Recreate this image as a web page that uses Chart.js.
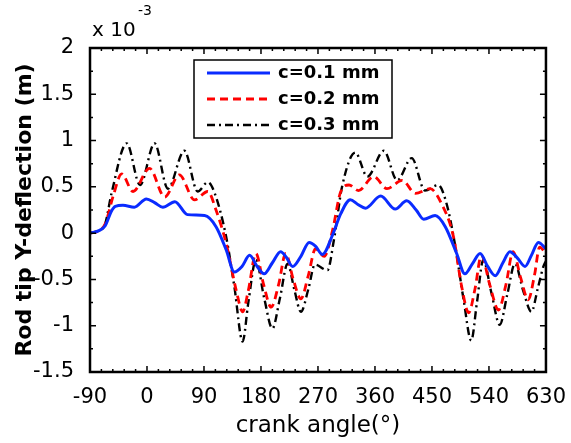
<!DOCTYPE html>
<html>
<head>
<meta charset="UTF-8">
<title>Rod tip Y-deflection</title>
<script src="https://cdn.jsdelivr.net/npm/chart.js"></script>
<style>
  html, body { margin: 0; padding: 0; background: #fff; }
</style>
</head>
<body>
<canvas id="grafico" width="571" height="443"></canvas>

<script>
// valores (deflexion en unidades de 1e-3 m)
const seriesNames = ['c=0.1 mm', 'c=0.2 mm', 'c=0.3 mm'];
const xTicks = [-90, 0, 90, 180, 270, 360, 450, 540, 630];
const yTicks = [-1.5, -1, -0.5, 0, 0.5, 1, 1.5, 2];

const angC1 = [-90,-75,-66,-56,-50,-38,-20,-1,12,25,44,64,91,109,125,138,150,162,174,185,198,211,220,230,243,256,266,277,293,306,321,333,345,369,392,410,425,437,455,471,489,502,514,526,538,550,562,573,585,597,607,618,630];
const defC1 = [0,0.03,0.08,0.24,0.29,0.30,0.28,0.37,0.33,0.28,0.34,0.20,0.19,0.07,-0.18,-0.42,-0.36,-0.24,-0.36,-0.44,-0.32,-0.20,-0.26,-0.36,-0.25,-0.10,-0.14,-0.23,-0.02,0.21,0.36,0.31,0.27,0.40,0.26,0.35,0.25,0.15,0.19,0.07,-0.22,-0.44,-0.33,-0.22,-0.36,-0.46,-0.32,-0.20,-0.27,-0.36,-0.24,-0.10,-0.17];

const angC2 = [-90,-75,-66,-53,-40,-22,4,28,51,75,96,109,125,141,151,160,172,184,196,208,219,231,243,255,266,280,293,306,319,334,358,379,403,424,447,465,484,497,508,518,528,541,555,567,578,590,602,612,620,630];
const defC2 = [0,0.03,0.10,0.41,0.64,0.45,0.70,0.39,0.63,0.36,0.45,0.25,-0.11,-0.62,-0.85,-0.62,-0.22,-0.55,-0.80,-0.55,-0.22,-0.50,-0.71,-0.45,-0.17,-0.25,0.03,0.45,0.52,0.46,0.61,0.48,0.57,0.43,0.48,0.32,-0.04,-0.58,-0.86,-0.60,-0.24,-0.55,-0.83,-0.55,-0.20,-0.48,-0.72,-0.45,-0.15,-0.22];

const angC3 = [-90,-75,-66,-56,-32,-11,12,33,59,80,96,107,125,138,151,160,172,185,198,210,222,233,243,255,265,285,295,308,329,348,374,395,418,439,460,473,486,500,512,521,531,544,557,569,581,594,607,617,626,630];
const defC3 = [0,0.03,0.10,0.43,0.97,0.52,0.97,0.48,0.89,0.45,0.55,0.43,-0.04,-0.58,-1.17,-0.75,-0.29,-0.70,-1.03,-0.70,-0.33,-0.62,-0.85,-0.60,-0.34,-0.40,-0.08,0.50,0.87,0.61,0.89,0.57,0.81,0.46,0.52,0.32,-0.11,-0.72,-1.16,-0.75,-0.29,-0.65,-0.99,-0.66,-0.33,-0.62,-0.85,-0.60,-0.36,-0.30];

function puntos(xs, ys) {
    return xs.map(function (x, i) { return { x: x, y: ys[i] }; });
}

const fuente = "'DejaVu Sans', sans-serif";

// marco, ticks hacia dentro, leyenda y el "x 10^-3"
const marcoPlugin = {
    id: 'marco',
    afterDraw: function (chart) {
        const g = chart.ctx;
        const a = chart.chartArea;
        const sx = chart.scales.x, sy = chart.scales.y;
        g.save();
        g.setLineDash([]);
        g.strokeStyle = '#000000';
        g.lineWidth = 1.5;
        // ticks eje x (mayores cada 90, menores cada 18)
        for (let v = -90; v <= 630; v += 18) {
            const px = sx.getPixelForValue(v);
            const len = (v + 90) % 90 === 0 ? 6 : 3;
            g.beginPath();
            g.moveTo(px, a.bottom); g.lineTo(px, a.bottom - len);
            g.moveTo(px, a.top); g.lineTo(px, a.top + len);
            g.stroke();
        }
        // ticks eje y (mayores cada 0.5, menores cada 0.25)
        for (let k = 0; k <= 14; k++) {
            const py = sy.getPixelForValue(-1.5 + k * 0.25);
            const len = k % 2 === 0 ? 6 : 3;
            g.beginPath();
            g.moveTo(a.left, py); g.lineTo(a.left + len, py);
            g.moveTo(a.right, py); g.lineTo(a.right - len, py);
            g.stroke();
        }
        g.lineWidth = 2.5;
        g.beginPath();
        g.rect(a.left, a.top, a.right - a.left, a.bottom - a.top);
        g.stroke();

        // leyenda dentro del area
        const lx = 194, ly = 60, lw = 198, lh = 78;
        g.fillStyle = '#fff';
        g.fillRect(lx, ly, lw, lh);
        g.lineWidth = 1.5;
        g.strokeStyle = '#000000';
        g.strokeRect(lx, ly, lw, lh);
        g.font = 'bold 18px ' + fuente;
        g.textBaseline = 'middle';
        chart.data.datasets.forEach(function (ds, i) {
            const yy = ly + 13 + i * 26;
            g.strokeStyle = ds.borderColor;
            g.lineWidth = ds.borderWidth;
            g.setLineDash(ds.borderDash || []);
            g.beginPath();
            g.moveTo(207, yy); g.lineTo(270, yy);
            g.stroke();
            g.setLineDash([]);
            g.fillStyle = '#000';
            g.fillText(ds.label, 278, yy);
        });

        // factor de escala arriba a la izquierda
        g.fillStyle = '#000';
        g.textBaseline = 'alphabetic';
        g.font = '20px ' + fuente;
        g.fillText('x 10', 92, 36);
        g.font = '14px ' + fuente;
        g.fillText('-3', 138, 15);
        g.restore();
    }
};

new Chart(document.getElementById('grafico'), {
    type: 'line',
    data: {
        datasets: [
            { label: seriesNames[0], data: puntos(angC1, defC1), borderColor: '#0a2bff', borderWidth: 3 },
            { label: seriesNames[1], data: puntos(angC2, defC2), borderColor: '#ff0000', borderWidth: 2.8, borderDash: [8, 5] },
            { label: seriesNames[2], data: puntos(angC3, defC3), borderColor: '#000000', borderWidth: 2.4, borderDash: [8, 4, 2, 4] }
        ]
    },
    options: {
        responsive: false,
        animation: false,
        devicePixelRatio: 1,
        layout: { padding: { top: 48, right: 23, left: 0, bottom: 0 } },
        elements: {
            point: { radius: 0 },
            line: { cubicInterpolationMode: 'monotone', fill: false }
        },
        plugins: { legend: { display: false }, tooltip: { enabled: false } },
        scales: {
            x: {
                type: 'linear',
                min: -90, max: 630,
                afterBuildTicks: function (s) { s.ticks = xTicks.map(function (v) { return { value: v }; }); },
                afterFit: function (s) { s.height = 71; },
                grid: { display: false },
                border: { display: false },
                ticks: { color: '#000', font: { family: fuente, size: 21 }, padding: 5, maxRotation: 0, autoSkip: false },
                title: { display: true, text: 'crank angle(°)', color: '#000', font: { family: fuente, size: 23 }, padding: { top: 0, bottom: 3 } }
            },
            y: {
                min: -1.5, max: 2,
                afterBuildTicks: function (s) { s.ticks = yTicks.map(function (v) { return { value: v }; }); },
                afterFit: function (s) { s.width = 90; },
                grid: { display: false },
                border: { display: false },
                ticks: {
                    color: '#000', font: { family: fuente, size: 21 }, padding: 8, autoSkip: false,
                    callback: function (v) { return String(v); }
                },
                title: { display: true, text: 'Rod tip Y-deflection (m)', color: '#000', font: { family: fuente, size: 22, weight: 'bold' }, padding: { top: 12, bottom: 0 } }
            }
        }
    },
    plugins: [marcoPlugin]
});
</script>
</body>
</html>
